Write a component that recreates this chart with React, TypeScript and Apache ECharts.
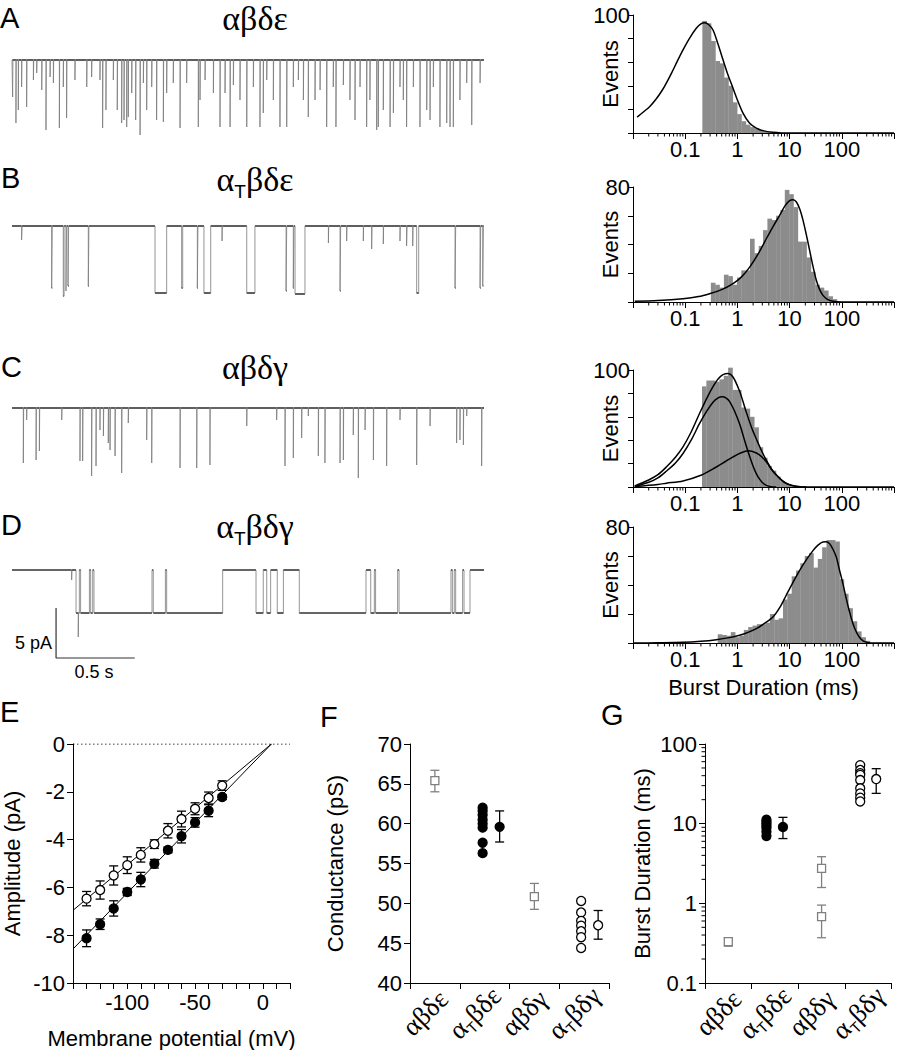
import React, { useEffect, useRef } from 'react';
import * as echarts from 'echarts';

const SANS = '"Liberation Sans", Arial, Helvetica, sans-serif';
const SERIF = '"Liberation Serif", "Times New Roman", serif';

// ---------- single-channel traces (time in s, depth of opening in pA) ----------
const TRACE_DURATION = 3.0;
const TRACE_A_SPIKES: number[][] = [
  [0.004, 3.7], [0.025, 6.3], [0.04, 5.0], [0.061, 2.7], [0.093, 4.7], [0.136, 2.0], [0.157, 1.3], [0.189, 3.0],
  [0.216, 7.0], [0.242, 1.7], [0.263, 2.3], [0.301, 6.8], [0.326, 2.7], [0.347, 5.8], [0.4, 2.0], [0.475, 2.7],
  [0.506, 1.7], [0.559, 2.0], [0.576, 6.8], [0.597, 5.0], [0.644, 2.0], [0.669, 5.0], [0.697, 6.3], [0.712, 6.0],
  [0.729, 6.7], [0.739, 5.7], [0.761, 3.3], [0.786, 6.0], [0.814, 7.5], [0.835, 2.3], [0.856, 5.0], [0.888, 2.7],
  [0.919, 6.0], [0.962, 6.2], [0.983, 3.3], [1.025, 2.3], [1.068, 6.8], [1.11, 2.3], [1.184, 6.7], [1.195, 4.0],
  [1.227, 2.0], [1.28, 3.3], [1.322, 6.7], [1.354, 3.3], [1.386, 6.7], [1.407, 2.5], [1.449, 4.0], [1.492, 6.7],
  [1.534, 2.7], [1.576, 6.7], [1.597, 5.3], [1.619, 2.0], [1.661, 4.0], [1.703, 6.7], [1.746, 6.7], [1.788, 2.7],
  [1.82, 2.0], [1.852, 4.0], [1.883, 5.7], [1.926, 4.0], [1.958, 3.0], [2.0, 6.7], [2.042, 2.7], [2.059, 6.7],
  [2.106, 2.5], [2.148, 4.0], [2.18, 6.0], [2.212, 2.7], [2.254, 6.7], [2.275, 4.0], [2.318, 7.0], [2.328, 6.7],
  [2.36, 5.0], [2.403, 6.7], [2.424, 5.3], [2.466, 2.7], [2.487, 4.0], [2.508, 6.7], [2.551, 2.7], [2.593, 6.7],
  [2.636, 5.0], [2.657, 6.0], [2.678, 2.7], [2.72, 6.7], [2.763, 6.3], [2.784, 6.7], [2.805, 6.7], [2.847, 4.0],
  [2.89, 2.3], [2.922, 6.5], [2.975, 2.3],
];
const TRACE_B_EVENTS: number[][] = [
  [0.061, 0.064, 1.4], [0.252, 0.256, 6.2], [0.326, 0.331, 7.0], [0.343, 0.347, 6.5], [0.356, 0.36, 6.0],
  [0.485, 0.489, 6.0], [0.909, 0.983, 6.7], [1.078, 1.085, 6.2], [1.178, 1.182, 6.2], [1.22, 1.263, 6.7],
  [1.335, 1.337, 1.5], [1.492, 1.544, 6.7], [1.742, 1.746, 6.5], [1.788, 1.792, 6.2], [1.799, 1.862, 6.8],
  [2.011, 2.013, 1.7], [2.085, 2.089, 6.5], [2.127, 2.129, 1.5], [2.233, 2.235, 1.5], [2.286, 2.288, 2.3],
  [2.36, 2.362, 1.8], [2.466, 2.468, 1.5], [2.508, 2.511, 2.0], [2.547, 2.549, 2.0], [2.572, 2.585, 6.7],
  [2.816, 2.82, 6.2], [2.975, 2.979, 6.2], [2.992, 2.996, 6.0],
];
const TRACE_C_SPIKES: number[][] = [
  [0.072, 5.5], [0.093, 1.2], [0.153, 5.2], [0.174, 4.3], [0.316, 1.2], [0.432, 5.3], [0.449, 5.3], [0.506, 6.8],
  [0.534, 5.8], [0.559, 2.2], [0.581, 2.8], [0.612, 3.5], [0.623, 4.2], [0.655, 4.8], [0.697, 6.5], [0.739, 1.5],
  [0.856, 3.2], [0.888, 5.5], [1.068, 6.0], [1.174, 6.0], [1.258, 5.7], [1.492, 1.8], [1.682, 1.2], [1.735, 5.8],
  [1.788, 5.0], [1.841, 3.0], [1.883, 0.8], [1.947, 4.8], [1.989, 5.5], [2.085, 5.5], [2.106, 5.2], [2.169, 2.7],
  [2.201, 7.0], [2.244, 2.2], [2.297, 5.2], [2.381, 5.8], [2.466, 1.2], [2.572, 5.7], [2.657, 1.8], [2.826, 3.5],
  [2.847, 3.2], [2.869, 3.7], [2.89, 0.8], [2.985, 5.8],
];
const TRACE_D_EVENTS: number[][] = [
  [0.379, 0.381, 1.0], [0.407, 0.421, 4.3], [0.421, 0.423, 6.7], [0.423, 0.428, 4.3], [0.436, 0.492, 4.3],
  [0.5, 0.513, 4.3], [0.521, 0.89, 4.3], [0.898, 0.975, 4.3], [0.983, 1.339, 4.3], [1.551, 1.597, 4.3],
  [1.619, 1.644, 4.3], [1.686, 1.725, 4.3], [1.826, 2.25, 4.3], [2.28, 2.303, 4.3], [2.311, 2.451, 4.3],
  [2.46, 2.79, 4.3], [2.799, 2.811, 4.3], [2.82, 2.864, 4.3], [2.873, 2.911, 4.3],
];
const SCALE_BAR_TIME = [0.28, 0.78]; // 0.5 s
const SCALE_BAR_CURRENT = [-3.8, -8.8]; // 5 pA

// ---------- burst duration histograms (log bins, 12 per decade) ----------
const BINS_PER_DECADE = 12;
const HIST_A_START = 0.213;
const HIST_A_COUNTS = [95, 93, 78, 61, 59, 47, 40, 26, 16, 10, 7, 5, 4, 2.5, 1.5, 1, 0.5];
const HIST_B_START = 0.31;
const HIST_B_COUNTS = [13.4, 12, 10, 19, 18, 12, 17, 22, 22, 44, 34, 39, 50, 58, 57, 60, 64, 78, 75, 66, 42, 42, 31, 21, 12, 10, 8, 4, 2];
const HIST_C_START = 0.21;
const HIST_C_COUNTS = [86, 91, 91, 90, 92, 95, 102, 83, 83, 68, 67, 60, 51, 34, 25, 18, 14, 9, 5, 2.5, 1];
const HIST_D_START = 0.42;
const HIST_D_COUNTS = [6, 5.5, 5, 7.5, 4, 5, 9, 11, 12, 13, 13, 14, 20, 16, 17, 30, 34, 46, 50, 55, 60, 62, 52, 58, 66, 71, 71, 70, 44, 34, 24, 15, 8, 4, 1.5];

const FIT_A = [
  [0.012, 13.5], [0.016, 18], [0.021, 22.5], [0.028, 29], [0.036, 36], [0.0435, 42.3], [0.055, 51], [0.07, 60.5],
  [0.0908, 70.4], [0.12, 80], [0.163, 88.7], [0.2, 92.5], [0.236, 93.5], [0.28, 92], [0.341, 87.3], [0.42, 76],
  [0.53, 62], [0.65, 50], [0.824, 38], [1.0, 28], [1.28, 16.9], [1.7, 8.5], [2.31, 4.2], [3.2, 1.8], [4.81, 0.6],
  [7, 0.1], [10, 0], [1000, 0],
];
const FIT_B = [
  [0.0108, 0.46], [0.03, 1], [0.0908, 2.3], [0.18, 3.8], [0.294, 5.8], [0.5, 8.6], [0.824, 12.8], [1.2, 17.5],
  [1.72, 24.3], [2.5, 33.5], [3.58, 44], [5, 53.5], [6.45, 60.3], [8.2, 67], [10, 70.5], [11.7, 71.2], [13.5, 69.6],
  [15.7, 64.5], [18.1, 56.8], [21, 46.5], [24.2, 35.9], [28, 25], [32.5, 15.1], [37.5, 8.8], [43.6, 4.6], [53, 1.8],
  [67.8, 0.5], [100, 0.05], [150, 0], [1000, 0],
];
const FIT_C_TOTAL = [
  [0.0108, 0.9], [0.02, 6], [0.03, 10.5], [0.0435, 17.1], [0.065, 25.5], [0.0908, 34.3], [0.13, 47], [0.189, 63],
  [0.26, 76], [0.341, 85.7], [0.43, 92.5], [0.53, 96], [0.66, 97.1], [0.824, 94], [1.1, 82], [1.28, 73], [1.48, 64],
  [1.9, 50], [2.31, 41], [2.9, 31], [3.58, 23], [4.5, 15.5], [5.55, 10.5], [7, 6], [8.6, 3.2], [10.8, 1.5],
  [13.4, 0.6], [17, 0.1], [20.9, 0], [1000, 0],
];
const FIT_C_FAST = [
  [0.0108, 0.4], [0.02, 4], [0.03, 7.8], [0.0435, 13.5], [0.065, 20.5], [0.0908, 28.6], [0.13, 40], [0.189, 54.3],
  [0.26, 65], [0.341, 72.5], [0.42, 76], [0.51, 77.1], [0.61, 76], [0.71, 73], [0.88, 65], [1.1, 54], [1.28, 44.5],
  [1.48, 35], [1.72, 26], [1.99, 18], [2.3, 11.5], [2.68, 6.5], [3.1, 3.2], [3.58, 1.4], [4.4, 0.3], [5.5, 0],
];
const FIT_C_SLOW = [
  [0.0108, 0.5], [0.03, 2.2], [0.0435, 3.2], [0.0908, 5.2], [0.2, 10], [0.395, 17.1], [0.6, 22], [0.824, 25.7],
  [1.15, 29], [1.6, 30.9], [2.31, 29.1], [2.9, 26], [3.58, 21.5], [4.5, 15], [5.55, 10.2], [7, 5.9], [8.6, 3.1],
  [10.8, 1.4], [13.4, 0.5], [17, 0.1], [20.9, 0],
];
const FIT_D = [
  [0.01, 0], [0.03, 0.15], [0.0908, 0.46], [0.2, 1.2], [0.395, 2.3], [0.7, 3.7], [1.1, 5.3], [1.6, 7.3], [2.31, 9.9],
  [3.3, 13.5], [4.8, 17.9], [6.5, 24.5], [8.6, 32.9], [11.5, 41.5], [15.6, 50.1], [21, 57.5], [28.3, 63.9],
  [35, 67.5], [43.6, 69.7], [50, 69.8], [58.5, 68.5], [67, 65], [78.4, 59.3], [90, 50.5], [105, 40.9], [121, 31],
  [141, 21.4], [163, 13.5], [190, 7.6], [220, 3.8], [255, 1.4], [310, 0.4], [396, 0], [1000, 0],
];

const HIST_MINOR_TICKS = [
  0.02, 0.03, 0.04, 0.05, 0.06, 0.07, 0.08, 0.09, 0.2, 0.3, 0.4, 0.5, 0.6, 0.7, 0.8, 0.9,
  2, 3, 4, 5, 6, 7, 8, 9, 20, 30, 40, 50, 60, 70, 80, 90, 200, 300, 400, 500, 600, 700, 800, 900,
];
const LOG_TICK_LABELS: Record<string, string> = { '-1': '0.1', '0': '1', '1': '10', '2': '100' };

// ---------- E: I-V relation ----------
const E_VOLTAGE = [-130, -120, -110, -100, -90, -80, -70, -60, -50, -40, -30];
const E_OPEN = [-6.47, -6.11, -5.5, -5.07, -4.64, -4.19, -3.63, -3.14, -2.71, -2.26, -1.74];
const E_OPEN_ERR = [0.3, 0.38, 0.4, 0.35, 0.3, 0.18, 0.3, 0.33, 0.25, 0.25, 0.2];
const E_FILLED = [-8.13, -7.54, -6.88, -6.19, -5.67, -5.01, -4.43, -3.86, -3.28, -2.79, -2.22];
const E_FILLED_ERR = [0.35, 0.22, 0.32, 0.15, 0.3, 0.18, 0.12, 0.28, 0.2, 0.25, 0.1];
const E_FIT_OPEN = [[-140, -6.96], [6.3, 0]];
const E_FIT_FILLED = [[-140, -8.58], [6.3, 0]];
const E_ZERO = [[-140, 0], [20, 0]];

// ---------- F & G: per-patch values ----------
const CATEGORIES = ['αβδε', 'α_Tβδε', 'αβδγ', 'α_Tβδγ'];
const F_SQUARES = [[0, 65.4], [2, 50.85]];
const F_SQUARES_ERR = [[0, 64.0, 66.7], [2, 49.25, 52.5]];
const F_FILLED_POINTS = [62.0, 61.6, 61.1, 60.5, 60.0, 59.5, 57.6, 56.3];
const F_FILLED_MEAN = [59.6];
const F_FILLED_ERR = [[1, 57.7, 61.6]];
const F_OPEN_POINTS = [50.3, 48.85, 47.8, 47.2, 46.5, 45.75, 44.4];
const F_OPEN_MEAN = [47.25];
const F_OPEN_ERR = [[3, 45.5, 49.1]];

const G_SQUARES = [[0, 0.33], [2, 2.75], [2, 0.68]];
const G_SQUARES_ERR = [[0, 0.29, 0.37], [2, 1.58, 3.85], [2, 0.37, 0.95]];
const G_FILLED_POINTS = [11.2, 10.6, 10.0, 9.4, 8.8, 7.9, 7.0];
const G_FILLED_MEAN = [9.1];
const G_FILLED_ERR = [[1, 6.5, 12.0]];
const G_OPEN_POINTS = [54.3, 47.2, 43.0, 41.0, 35.3, 27.8, 24.0, 21.2, 19.0];
const G_OPEN_MEAN = [36.3];
const G_OPEN_ERR = [[3, 24, 49]];
const G_MINOR_TICKS = [0.2, 0.3, 0.4, 0.5, 0.6, 0.7, 0.8, 0.9, 2, 3, 4, 5, 6, 7, 8, 9, 20, 30, 40, 50, 60, 70, 80, 90];

// ---------- helpers ----------
function spikesToEvents(sp: number[][]) {
  return sp.map(([t, d]) => [t, t + 0.002, d]);
}
function buildTrace(ev: number[][]) {
  const pts: number[][] = [[0, 0]];
  ev.forEach(([s, e, d], i) => {
    const prev = ev[i - 1];
    const next = ev[i + 1];
    if (!(prev && prev[1] === s)) pts.push([s, 0]);
    pts.push([s, -d], [e, -d]);
    if (!(next && next[0] === e)) pts.push([e, 0]);
  });
  pts.push([TRACE_DURATION, 0]);
  return pts;
}
// horizontal (closed / open level) stretches of a trace, drawn darker like the noisy record
function levelSegments(ev: number[][]) {
  const segs: number[][] = [];
  let t = 0;
  ev.forEach(([s, e, d]) => {
    if (s > t) segs.push([t, s, 0]);
    if (e - s > 0.004) segs.push([s, e, -d]);
    t = Math.max(t, e);
  });
  if (t < TRACE_DURATION) segs.push([t, TRACE_DURATION, 0]);
  return segs;
}
function histBins(start: number, counts: number[]) {
  return counts.map((c, i) => [
    start * Math.pow(10, i / BINS_PER_DECADE),
    start * Math.pow(10, (i + 1) / BINS_PER_DECADE),
    c,
  ]);
}
function richLabel(s: string) {
  if (s.indexOf('_T') >= 0) {
    const [a, b] = s.split('_T');
    return `{g|${a}}{s|T}{g|${b}}`;
  }
  return `{g|${s}}`;
}

const AXIS_LINE = { show: true, onZero: false, lineStyle: { color: '#000', width: 1 } };
const LABEL_STYLE = { color: '#000', fontFamily: SANS, fontSize: 22 };
const NAME_STYLE = { color: '#000', fontFamily: SANS, fontSize: 22 };

function errorBars(gi: number, data: number[][], color: string, offset: number) {
  return {
    type: 'custom',
    xAxisIndex: gi,
    yAxisIndex: gi,
    data,
    encode: { x: 0, y: [1, 2] },
    clip: false,
    silent: true,
    z: 2,
    renderItem: (params: any, api: any) => {
      const lo = api.coord([api.value(0), api.value(1)]);
      const hi = api.coord([api.value(0), api.value(2)]);
      const x = lo[0] + offset;
      const cap = 4.5;
      const style = { stroke: color, lineWidth: 1.3, fill: 'none' };
      return {
        type: 'group',
        children: [
          { type: 'line', shape: { x1: x, y1: lo[1], x2: x, y2: hi[1] }, style },
          { type: 'line', shape: { x1: x - cap, y1: lo[1], x2: x + cap, y2: lo[1] }, style },
          { type: 'line', shape: { x1: x - cap, y1: hi[1], x2: x + cap, y2: hi[1] }, style },
        ],
      };
    },
  };
}

function scatter(gi: number, data: number[][], symbol: string, size: number, fill: string, stroke: string, offset: number) {
  return {
    type: 'scatter',
    xAxisIndex: gi,
    yAxisIndex: gi,
    data,
    symbol,
    symbolSize: size,
    symbolOffset: [offset, 0],
    z: 3,
    silent: true,
    itemStyle: { color: fill, borderColor: stroke, borderWidth: 1.3, opacity: 1 },
  };
}

function buildOption() {
  const grids: any[] = [];
  const xAxes: any[] = [];
  const yAxes: any[] = [];
  const series: any[] = [];

  // traces
  const traceTops = [50, 216, 398, 560];
  const traceEvents = [
    spikesToEvents(TRACE_A_SPIKES),
    TRACE_B_EVENTS,
    spikesToEvents(TRACE_C_SPIKES),
    TRACE_D_EVENTS,
  ];
  traceTops.forEach((top, i) => {
    grids.push({ left: 12, top, width: 472, height: 100 });
    xAxes.push({ type: 'value', gridIndex: i, min: 0, max: TRACE_DURATION, show: false });
    yAxes.push({ type: 'value', gridIndex: i, min: -9, max: 1, show: false });
    series.push({
      type: 'line',
      xAxisIndex: i,
      yAxisIndex: i,
      data: buildTrace(traceEvents[i]),
      showSymbol: false,
      silent: true,
      clip: false,
      lineStyle: { color: '#7a7a7a', width: 0.8 },
    });
    series.push({
      type: 'custom',
      xAxisIndex: i,
      yAxisIndex: i,
      data: levelSegments(traceEvents[i]),
      encode: { x: [0, 1], y: 2 },
      clip: false,
      silent: true,
      z: 3,
      renderItem: (params: any, api: any) => {
        const a = api.coord([api.value(0), api.value(2)]);
        const b = api.coord([api.value(1), api.value(2)]);
        return { type: 'line', shape: { x1: a[0], y1: a[1], x2: b[0], y2: b[1] }, style: { stroke: '#222', lineWidth: 1.6 } };
      },
    });
  });
  // scale bar in trace D coordinates
  series.push({
    type: 'line',
    xAxisIndex: 3,
    yAxisIndex: 3,
    data: [
      [SCALE_BAR_TIME[0], SCALE_BAR_CURRENT[0]],
      [SCALE_BAR_TIME[0], SCALE_BAR_CURRENT[1]],
      [SCALE_BAR_TIME[1], SCALE_BAR_CURRENT[1]],
    ],
    showSymbol: false,
    clip: false,
    silent: true,
    lineStyle: { color: '#333', width: 1.2 },
  });

  // histograms
  const hists = [
    { top: 15, height: 118, max: 100, start: HIST_A_START, counts: HIST_A_COUNTS, fits: [FIT_A], xName: '' },
    { top: 187, height: 115, max: 80, start: HIST_B_START, counts: HIST_B_COUNTS, fits: [FIT_B], xName: '' },
    { top: 370, height: 117, max: 100, start: HIST_C_START, counts: HIST_C_COUNTS, fits: [FIT_C_TOTAL, FIT_C_FAST, FIT_C_SLOW], xName: '' },
    { top: 527, height: 116, max: 80, start: HIST_D_START, counts: HIST_D_COUNTS, fits: [FIT_D], xName: 'Burst Duration (ms)' },
  ];
  hists.forEach((h, k) => {
    const gi = 4 + k;
    grids.push({ left: 633, top: h.top, width: 261, height: h.height });
    xAxes.push({
      type: 'log',
      logBase: 10,
      gridIndex: gi,
      min: 0.01,
      max: 1000,
      axisLine: AXIS_LINE,
      axisTick: { show: true, length: 6, lineStyle: { color: '#000' } },
      splitLine: { show: false },
      axisLabel: {
        ...LABEL_STYLE,
        margin: 5,
        formatter: (v: number) => LOG_TICK_LABELS[String(Math.round(Math.log10(v)))] || '',
      },
      name: h.xName,
      nameLocation: 'middle',
      nameGap: 33,
      nameMoveOverlap: false,
      nameTextStyle: NAME_STYLE,
    });
    yAxes.push({
      type: 'value',
      gridIndex: gi,
      min: 0,
      max: h.max,
      interval: 20,
      axisLine: AXIS_LINE,
      axisTick: { show: true, length: 5, lineStyle: { color: '#000' } },
      splitLine: { show: false },
      axisLabel: { ...LABEL_STYLE, margin: 3, formatter: (v: number) => (v === h.max ? String(v) : '') },
      name: 'Events',
      nameLocation: 'middle',
      nameGap: 12,
      nameRotate: 90,
      nameMoveOverlap: false,
      nameTextStyle: NAME_STYLE,
    });
    series.push({
      type: 'custom',
      xAxisIndex: gi,
      yAxisIndex: gi,
      data: histBins(h.start, h.counts),
      encode: { x: [0, 1], y: 2 },
      silent: true,
      z: 1,
      renderItem: (params: any, api: any) => {
        const p0 = api.coord([api.value(0), api.value(2)]);
        const p1 = api.coord([api.value(1), 0]);
        return {
          type: 'rect',
          shape: { x: p0[0], y: p0[1], width: p1[0] - p0[0] + 0.3, height: p1[1] - p0[1] },
          style: { fill: '#8c8c8c' },
        };
      },
    });
    h.fits.forEach((f) => {
      series.push({
        type: 'line',
        xAxisIndex: gi,
        yAxisIndex: gi,
        data: f,
        smooth: 0.3,
        showSymbol: false,
        silent: true,
        z: 3,
        lineStyle: { color: '#000', width: 1.5 },
      });
    });
    series.push({
      type: 'custom',
      xAxisIndex: gi,
      yAxisIndex: gi,
      data: HIST_MINOR_TICKS.map((v) => [v, 0]),
      encode: { x: 0, y: 1 },
      clip: false,
      silent: true,
      renderItem: (params: any, api: any) => {
        const p = api.coord([api.value(0), 0]);
        return { type: 'line', shape: { x1: p[0], y1: p[1], x2: p[0], y2: p[1] + 3.5 }, style: { stroke: '#000', lineWidth: 1 } };
      },
    });
  });

  // E
  grids.push({ left: 70, top: 744, width: 220, height: 240 });
  xAxes.push({
    type: 'value',
    gridIndex: 8,
    min: -140,
    max: 20,
    interval: 10,
    axisLine: AXIS_LINE,
    axisTick: { show: true, length: 6, lineStyle: { color: '#000' } },
    splitLine: { show: false },
    axisLabel: { ...LABEL_STYLE, margin: 8, formatter: (v: number) => (v % 50 === 0 ? String(v) : '') },
    name: 'Membrane potential (mV)',
    nameLocation: 'middle',
    nameGap: 44,
    nameMoveOverlap: false,
    nameTextStyle: { ...NAME_STYLE, padding: [0, 20, 0, 0] },
  });
  yAxes.push({
    type: 'value',
    gridIndex: 8,
    min: -10,
    max: 0,
    interval: 2,
    axisLine: AXIS_LINE,
    axisTick: { show: true, length: 6, lineStyle: { color: '#000' } },
    splitLine: { show: false },
    axisLabel: { ...LABEL_STYLE, margin: 8 },
    name: 'Amplitude (pA)',
    nameLocation: 'middle',
    nameGap: 50,
    nameRotate: 90,
    nameMoveOverlap: false,
    nameTextStyle: NAME_STYLE,
  });
  series.push({
    type: 'line', xAxisIndex: 8, yAxisIndex: 8, data: E_ZERO, showSymbol: false, silent: true,
    lineStyle: { color: '#000', width: 1, type: [1.5, 2.5] },
  });
  series.push({
    type: 'line', xAxisIndex: 8, yAxisIndex: 8, data: E_FIT_OPEN, showSymbol: false, silent: true, z: 1,
    lineStyle: { color: '#000', width: 1 },
  });
  series.push({
    type: 'line', xAxisIndex: 8, yAxisIndex: 8, data: E_FIT_FILLED, showSymbol: false, silent: true, z: 1,
    lineStyle: { color: '#000', width: 1 },
  });
  series.push(errorBars(8, E_VOLTAGE.map((v, i) => [v, E_OPEN[i] - E_OPEN_ERR[i], E_OPEN[i] + E_OPEN_ERR[i]]), '#000', 0));
  series.push(errorBars(8, E_VOLTAGE.map((v, i) => [v, E_FILLED[i] - E_FILLED_ERR[i], E_FILLED[i] + E_FILLED_ERR[i]]), '#000', 0));
  series.push(scatter(8, E_VOLTAGE.map((v, i) => [v, E_OPEN[i]]), 'circle', 9, '#fff', '#000', 0));
  series.push(scatter(8, E_VOLTAGE.map((v, i) => [v, E_FILLED[i]]), 'circle', 9, '#000', '#000', 0));

  // F and G category axes
  const catAxis = (gi: number) => ({
    type: 'category',
    gridIndex: gi,
    data: CATEGORIES,
    boundaryGap: true,
    axisLine: AXIS_LINE,
    axisTick: { show: true, length: 6, alignWithLabel: false, lineStyle: { color: '#000' } },
    splitLine: { show: false },
    axisLabel: {
      interval: 0,
      rotate: 45,
      align: 'center',
      verticalAlign: 'middle',
      margin: 20,
      formatter: (v: string) => richLabel(v) + '{p| }',
      rich: {
        g: { fontFamily: SERIF, fontSize: 27, color: '#000', lineHeight: 32 },
        s: { fontFamily: SANS, fontSize: 15, color: '#000', verticalAlign: 'bottom', lineHeight: 15 },
        p: { width: 28, fontSize: 10 },
      },
    },
  });

  grids.push({ left: 410, top: 744, width: 199, height: 239 });
  xAxes.push(catAxis(9));
  yAxes.push({
    type: 'value',
    gridIndex: 9,
    min: 40,
    max: 70,
    interval: 5,
    axisLine: AXIS_LINE,
    axisTick: { show: true, length: 6, lineStyle: { color: '#000' } },
    splitLine: { show: false },
    axisLabel: { ...LABEL_STYLE, margin: 8 },
    name: 'Conductance (pS)',
    nameLocation: 'middle',
    nameGap: 64,
    nameRotate: 90,
    nameMoveOverlap: false,
    nameTextStyle: NAME_STYLE,
  });
  series.push(errorBars(9, F_SQUARES_ERR, '#808080', 0));
  series.push(scatter(9, F_SQUARES, 'rect', 8, '#fff', '#808080', 0));
  series.push(scatter(9, F_FILLED_POINTS.map((v) => [1, v]), 'circle', 9, '#000', '#000', -2));
  series.push(errorBars(9, F_FILLED_ERR, '#000', 15));
  series.push(scatter(9, F_FILLED_MEAN.map((v) => [1, v]), 'circle', 9, '#000', '#000', 15));
  series.push(scatter(9, F_OPEN_POINTS.map((v) => [3, v]), 'circle', 9, '#fff', '#000', -3));
  series.push(errorBars(9, F_OPEN_ERR, '#000', 14));
  series.push(scatter(9, F_OPEN_MEAN.map((v) => [3, v]), 'circle', 9, '#fff', '#000', 14));

  grids.push({ left: 705, top: 744, width: 198, height: 239 });
  xAxes.push(catAxis(10));
  yAxes.push({
    type: 'log',
    logBase: 10,
    gridIndex: 10,
    min: 0.1,
    max: 100,
    axisLine: AXIS_LINE,
    axisTick: { show: true, length: 6, lineStyle: { color: '#000' } },
    splitLine: { show: false },
    axisLabel: { ...LABEL_STYLE, margin: 8, formatter: (v: number) => LOG_TICK_LABELS[String(Math.round(Math.log10(v)))] || '' },
    name: 'Burst Duration (ms)',
    nameLocation: 'middle',
    nameGap: 52,
    nameRotate: 90,
    nameMoveOverlap: false,
    nameTextStyle: NAME_STYLE,
  });
  series.push({
    type: 'custom',
    xAxisIndex: 10,
    yAxisIndex: 10,
    data: G_MINOR_TICKS.map((v) => [0, v]),
    encode: { x: 0, y: 1 },
    clip: false,
    silent: true,
    renderItem: (params: any, api: any) => {
      const p = api.coord([0, api.value(1)]);
      const x = params.coordSys.x;
      return { type: 'line', shape: { x1: x - 3.5, y1: p[1], x2: x, y2: p[1] }, style: { stroke: '#000', lineWidth: 1 } };
    },
  });
  series.push(errorBars(10, G_SQUARES_ERR, '#808080', 0));
  series.push(scatter(10, G_SQUARES, 'rect', 8, '#fff', '#808080', 0));
  series.push(scatter(10, G_FILLED_POINTS.map((v) => [1, v]), 'circle', 9, '#000', '#000', -8.5));
  series.push(errorBars(10, G_FILLED_ERR, '#000', 8));
  series.push(scatter(10, G_FILLED_MEAN.map((v) => [1, v]), 'circle', 9, '#000', '#000', 8));
  series.push(scatter(10, G_OPEN_POINTS.map((v) => [3, v]), 'circle', 9, '#fff', '#000', -8));
  series.push(errorBars(10, G_OPEN_ERR, '#000', 8));
  series.push(scatter(10, G_OPEN_MEAN.map((v) => [3, v]), 'circle', 9, '#fff', '#000', 8));

  // panel letters, titles, scale-bar labels
  const letters: [string, number, number][] = [
    ['A', 0, 18], ['B', 1, 178], ['C', 1, 367], ['D', 1, 525], ['E', 0, 712], ['F', 320, 717], ['G', 601, 715],
  ];
  const titles: [string, number][] = [
    [CATEGORIES[0], 18], [CATEGORIES[1], 179], [CATEGORIES[2], 367], [CATEGORIES[3], 526],
  ];
  const graphic: any[] = [];
  letters.forEach(([t, x, y]) => {
    graphic.push({
      type: 'text', x, y, silent: true,
      style: { text: t, fontFamily: SANS, fontSize: 29, fill: '#000', align: 'left', verticalAlign: 'middle' },
    });
  });
  titles.forEach(([t, y]) => {
    graphic.push({
      type: 'text', x: 255, y, silent: true,
      style: {
        text: richLabel(t),
        align: 'center',
        verticalAlign: 'middle',
        rich: {
          g: { fontFamily: SERIF, fontSize: 34, fill: '#000', lineHeight: 44 },
          s: { fontFamily: SANS, fontSize: 19, fill: '#000', verticalAlign: 'bottom', lineHeight: 20 },
        },
      },
    });
  });
  graphic.push({
    type: 'text', x: 52, y: 643, silent: true,
    style: { text: '5 pA', fontFamily: SANS, fontSize: 18, fill: '#000', align: 'right', verticalAlign: 'middle' },
  });
  graphic.push({
    type: 'text', x: 94, y: 672, silent: true,
    style: { text: '0.5 s', fontFamily: SANS, fontSize: 18, fill: '#000', align: 'center', verticalAlign: 'middle' },
  });

  return {
    animation: false,
    backgroundColor: '#fff',
    grid: grids,
    xAxis: xAxes,
    yAxis: yAxes,
    series,
    graphic,
  };
}

export default function App() {
  const ref = useRef<HTMLDivElement>(null);
  useEffect(() => {
    if (!ref.current) return;
    const chart = echarts.init(ref.current, undefined, { renderer: 'svg' });
    chart.setOption(buildOption() as any);
    return () => chart.dispose();
  }, []);
  return <div ref={ref} style={{ position: 'absolute', left: 0, top: 0, width: 903, height: 1050 }} />;
}
